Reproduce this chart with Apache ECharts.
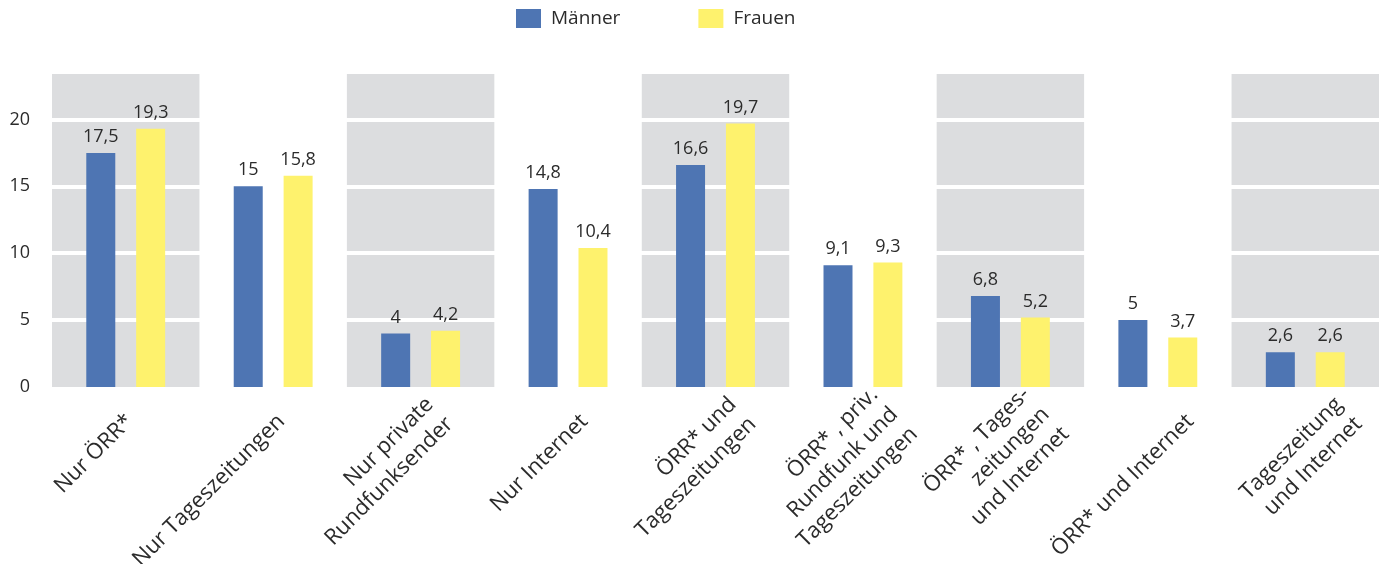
<!DOCTYPE html>
<html>
<head>
<meta charset="utf-8">
<script src="https://cdn.jsdelivr.net/npm/echarts@6/dist/echarts.min.js"></script>
<style>
  html, body { margin: 0; padding: 0; background: #fff; }
  #chart { width: 1387px; height: 564px; }
</style>
</head>
<body>
<div id="chart"></div>
<script>
const categories = [
  "Nur ÖRR*",
  "Nur Tageszeitungen",
  "Nur private\nRundfunksender",
  "Nur Internet",
  "ÖRR* und\nTageszeitungen",
  "ÖRR* , priv.\nRundfunk und\nTageszeitungen",
  "ÖRR* , Tages-\nzeitungen\nund Internet",
  "ÖRR* und Internet",
  "Tageszeitung\nund Internet",
];
const maenner = [17.5, 15, 4, 14.8, 16.6, 9.1, 6.8, 5, 2.6];
const frauen = [19.3, 15.8, 4.2, 10.4, 19.7, 9.3, 5.2, 3.7, 2.6];
const yTicks = [0, 5, 10, 15, 20];

const FONT = "Open Sans";
const TEXT = "#2b2b2b";

const chart = echarts.init(document.getElementById("chart"));

const valueLabel = {
  show: true,
  position: "top",
  distance: 7,
  color: TEXT,
  fontFamily: FONT,
  fontSize: 18,
  formatter: (p) => String(p.value).replace(".", ","),
};

// the labels sit a bit wider apart than the bars, so they get their own axis;
// blocks with several lines hang a little lower than one-liners
const labelData = categories.map((c) => {
  const lines = c.split("\n").length;
  if (lines === 1) return c;
  return { value: c, textStyle: { padding: [lines * 17, -10, 0, 0] } };
});

chart.setOption({
  backgroundColor: "#fff",
  animation: false,
  legend: {
    top: 9,
    left: 516,
    padding: 0,
    itemWidth: 25,
    itemHeight: 19,
    itemGap: 78,
    icon: "rect",
    textStyle: { color: TEXT, fontFamily: FONT, fontSize: 19, padding: [0, 0, 0, 5] },
    data: ["Männer", "Frauen"],
  },
  grid: [
    { left: 52, right: 8, top: 74, bottom: 177, containLabel: false, outerBoundsMode: "none" },
    { left: 54, width: 1363.5, top: 74, bottom: 177, containLabel: false, outerBoundsMode: "none" },
  ],
  xAxis: [
    {
      type: "category",
      data: categories,
      axisLine: { show: false },
      axisTick: { show: false },
      axisLabel: { show: false },
      splitArea: {
        show: true,
        areaStyle: { color: ["#dcdddf", "rgba(255,255,255,0)"] },
      },
    },
    {
      type: "category",
      gridIndex: 1,
      data: labelData,
      axisLine: { show: false },
      axisTick: { show: false },
      axisLabel: {
        interval: 0,
        rotate: 45,
        margin: 31,
        hideOverlap: false,
        fontFamily: FONT,
        fontSize: 22,
        lineHeight: 28,
        color: TEXT,
      },
    },
  ],
  yAxis: [
    {
      type: "value",
      min: 0,
      max: 23.4,
      interval: 5,
      z: 1,
      axisLine: { show: false },
      axisTick: { show: false },
      splitLine: {
        show: true,
        showMinLine: false,
        showMaxLine: false,
        lineStyle: { color: "#ffffff", width: 4 },
      },
      axisLabel: {
        margin: 22,
        color: TEXT,
        fontFamily: FONT,
        fontSize: 18,
        formatter: (v) => (yTicks.includes(v) ? String(v) : ""),
      },
    },
    { type: "value", gridIndex: 1, show: false, min: 0, max: 1 },
  ],
  series: [
    {
      name: "Männer",
      type: "bar",
      z: 3,
      data: maenner,
      barWidth: 29,
      barGap: "72%",
      itemStyle: { color: "#4e75b3" },
      label: valueLabel,
    },
    {
      name: "Frauen",
      type: "bar",
      z: 3,
      data: frauen,
      barWidth: 29,
      itemStyle: { color: "#fef26d" },
      label: valueLabel,
    },
  ],
});
</script>
</body>
</html>
